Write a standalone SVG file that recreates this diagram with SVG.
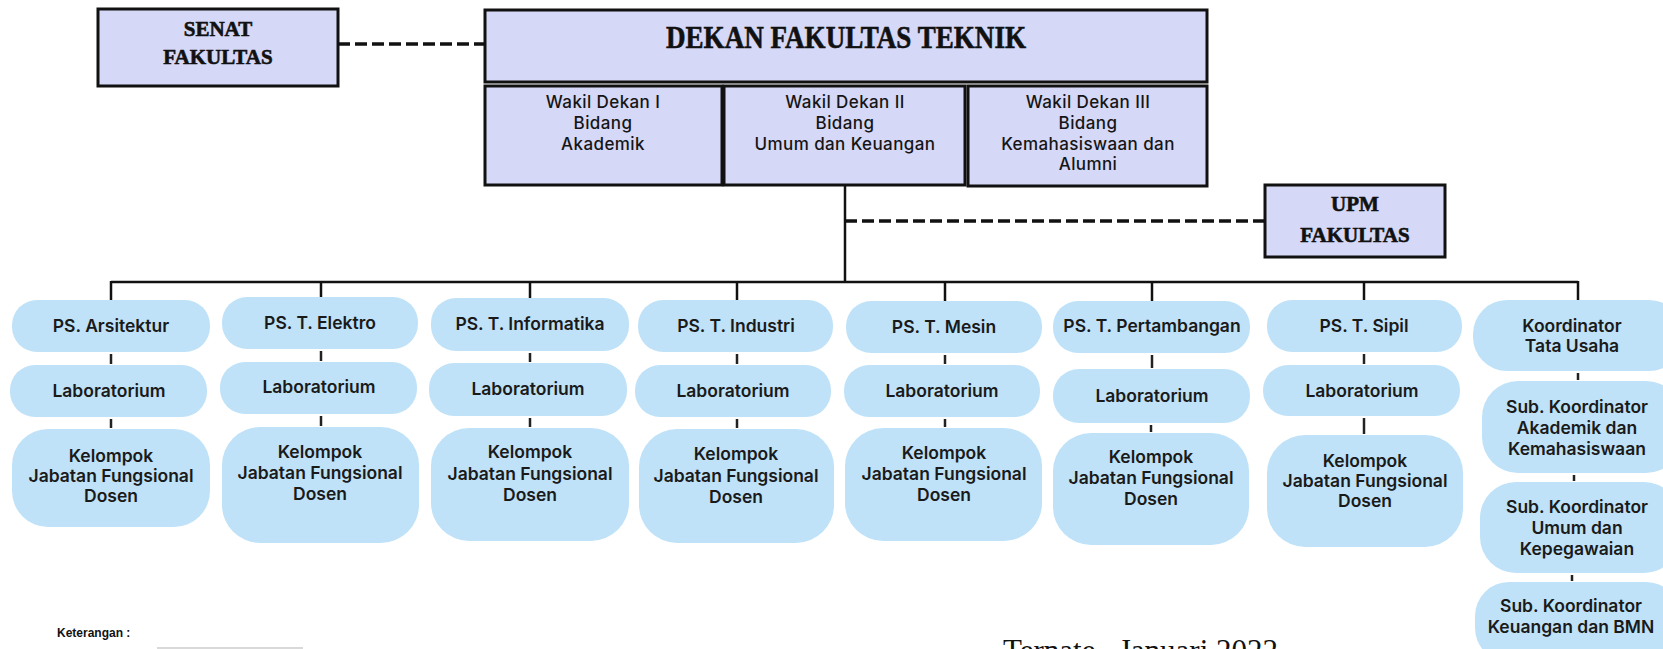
<svg xmlns="http://www.w3.org/2000/svg" width="1663" height="649" viewBox="0 0 1663 649">
<style>
.bx{fill:#D5D8F7;stroke:#111;stroke-width:3}
.pill{fill:#BFE2F8;stroke:none}
.sf{font-family:"Liberation Serif","DejaVu Serif",serif;font-weight:bold;fill:#111;text-anchor:middle;stroke:#111;stroke-width:0.6}
.wk{font-family:Inter,"Noto Sans",sans-serif;font-weight:500;font-size:17px;letter-spacing:0.4px;fill:#151515;text-anchor:middle}
.pt{font-family:Inter,"Noto Sans",sans-serif;font-weight:600;font-size:17.5px;fill:#1a1a1a;text-anchor:middle}
.ln{stroke:#111;stroke-width:2.5;fill:none}
.st{stroke:#222;stroke-width:2.5;fill:none}
.dash{stroke:#111;stroke-width:3.5;stroke-dasharray:12 5;fill:none}
</style>
<rect width="1663" height="649" fill="#fff"/>

<g id="connectors">
<line class="dash" x1="338" y1="44" x2="485" y2="44"/>
<line class="dash" x1="845" y1="221" x2="1265" y2="221"/>
<line class="ln" x1="845" y1="186" x2="845" y2="282"/>
<line class="ln" x1="111" y1="282" x2="1578" y2="282"/>
<line class="ln" x1="111" y1="281" x2="111" y2="300"/>
<line class="ln" x1="321" y1="281" x2="321" y2="297"/>
<line class="ln" x1="530" y1="281" x2="530" y2="298"/>
<line class="ln" x1="737" y1="281" x2="737" y2="300"/>
<line class="ln" x1="945" y1="281" x2="945" y2="301"/>
<line class="ln" x1="1152" y1="281" x2="1152" y2="301"/>
<line class="ln" x1="1364" y1="281" x2="1364" y2="300"/>
<line class="ln" x1="1578" y1="281" x2="1578" y2="300"/>
<line class="st" x1="111" y1="354" x2="111" y2="364"/>
<line class="st" x1="111" y1="419" x2="111" y2="428"/>
<line class="st" x1="321" y1="351" x2="321" y2="361"/>
<line class="st" x1="321" y1="416" x2="321" y2="426"/>
<line class="st" x1="530" y1="353" x2="530" y2="362"/>
<line class="st" x1="530" y1="418" x2="530" y2="427"/>
<line class="st" x1="737" y1="354" x2="737" y2="364"/>
<line class="st" x1="737" y1="419" x2="737" y2="428"/>
<line class="st" x1="945" y1="355" x2="945" y2="364"/>
<line class="st" x1="945" y1="419" x2="945" y2="427"/>
<line class="st" x1="1152" y1="355" x2="1152" y2="368"/>
<line class="st" x1="1151" y1="425" x2="1151" y2="432"/>
<line class="st" x1="1364" y1="354" x2="1364" y2="364"/>
<line class="st" x1="1364" y1="418" x2="1364" y2="434"/>
<line class="st" x1="1578" y1="373" x2="1578" y2="380"/>
<line class="st" x1="1574" y1="475" x2="1574" y2="481"/>
<line class="st" x1="1572" y1="575" x2="1572" y2="581"/>
</g>

<g id="senat">
<rect class="bx" x="98" y="9" width="240" height="77"/>
<text class="sf" x="218" y="36" font-size="21">SENAT</text>
<text class="sf" x="218" y="64" font-size="21">FAKULTAS</text>
</g>

<g id="dekan">
<rect class="bx" x="485" y="10" width="722" height="72"/>
<text class="sf" x="846" y="48" font-size="32" textLength="360" lengthAdjust="spacingAndGlyphs">DEKAN FAKULTAS TEKNIK</text>
</g>

<g id="wd1">
<rect class="bx" x="485" y="86" width="237" height="99"/>
<text class="wk" x="603" y="108">Wakil Dekan I</text>
<text class="wk" x="603" y="129">Bidang</text>
<text class="wk" x="603" y="150">Akademik</text>
</g>
<g id="wd2">
<rect class="bx" x="724" y="86" width="241" height="99"/>
<text class="wk" x="845" y="108">Wakil Dekan II</text>
<text class="wk" x="845" y="129">Bidang</text>
<text class="wk" x="845" y="150">Umum dan Keuangan</text>
</g>
<g id="wd3">
<rect class="bx" x="968" y="86" width="239" height="100"/>
<text class="wk" x="1088" y="108">Wakil Dekan III</text>
<text class="wk" x="1088" y="129">Bidang</text>
<text class="wk" x="1088" y="150">Kemahasiswaan dan</text>
<text class="wk" x="1088" y="170">Alumni</text>
</g>

<g id="upm">
<rect class="bx" x="1265" y="185" width="180" height="72"/>
<text class="sf" x="1355" y="211" font-size="21">UPM</text>
<text class="sf" x="1355" y="242" font-size="21">FAKULTAS</text>
</g>

<g id="ps-arsitektur">
<rect class="pill" x="12" y="300" width="198" height="52" rx="25"/>
<text class="pt" x="111" y="332">PS. Arsitektur</text>
</g>
<g id="lab-arsitektur">
<rect class="pill" x="10" y="365" width="197" height="52" rx="25"/>
<text class="pt" x="109" y="397">Laboratorium</text>
</g>
<g id="kel-arsitektur">
<rect class="pill" x="12" y="429" width="198" height="98" rx="36"/>
<text class="pt" x="111" y="462">Kelompok</text>
<text class="pt" x="111" y="482">Jabatan Fungsional</text>
<text class="pt" x="111" y="502">Dosen</text>
</g>

<g id="ps-elektro">
<rect class="pill" x="222" y="297" width="196" height="52" rx="25"/>
<text class="pt" x="320" y="329">PS. T. Elektro</text>
</g>
<g id="lab-elektro">
<rect class="pill" x="220" y="362" width="197" height="52" rx="25"/>
<text class="pt" x="319" y="393">Laboratorium</text>
</g>
<g id="kel-elektro">
<rect class="pill" x="222" y="427" width="197" height="116" rx="38"/>
<text class="pt" x="320" y="458">Kelompok</text>
<text class="pt" x="320" y="479">Jabatan Fungsional</text>
<text class="pt" x="320" y="500">Dosen</text>
</g>

<g id="ps-informatika">
<rect class="pill" x="431" y="298" width="198" height="53" rx="25"/>
<text class="pt" x="530" y="330">PS. T. Informatika</text>
</g>
<g id="lab-informatika">
<rect class="pill" x="429" y="363" width="198" height="53" rx="25"/>
<text class="pt" x="528" y="395">Laboratorium</text>
</g>
<g id="kel-informatika">
<rect class="pill" x="431" y="428" width="198" height="113" rx="38"/>
<text class="pt" x="530" y="458">Kelompok</text>
<text class="pt" x="530" y="480">Jabatan Fungsional</text>
<text class="pt" x="530" y="501">Dosen</text>
</g>

<g id="ps-industri">
<rect class="pill" x="638" y="300" width="195" height="52" rx="25"/>
<text class="pt" x="736" y="332">PS. T. Industri</text>
</g>
<g id="lab-industri">
<rect class="pill" x="635" y="365" width="196" height="52" rx="25"/>
<text class="pt" x="733" y="397">Laboratorium</text>
</g>
<g id="kel-industri">
<rect class="pill" x="639" y="429" width="195" height="114" rx="38"/>
<text class="pt" x="736" y="460">Kelompok</text>
<text class="pt" x="736" y="482">Jabatan Fungsional</text>
<text class="pt" x="736" y="503">Dosen</text>
</g>

<g id="ps-mesin">
<rect class="pill" x="846" y="301" width="196" height="52" rx="25"/>
<text class="pt" x="944" y="333">PS. T. Mesin</text>
</g>
<g id="lab-mesin">
<rect class="pill" x="844" y="365" width="196" height="52" rx="25"/>
<text class="pt" x="942" y="397">Laboratorium</text>
</g>
<g id="kel-mesin">
<rect class="pill" x="845" y="428" width="197" height="113" rx="38"/>
<text class="pt" x="944" y="459">Kelompok</text>
<text class="pt" x="944" y="480">Jabatan Fungsional</text>
<text class="pt" x="944" y="501">Dosen</text>
</g>

<g id="ps-pertambangan">
<rect class="pill" x="1053" y="301" width="197" height="52" rx="25"/>
<text class="pt" x="1152" y="332">PS. T. Pertambangan</text>
</g>
<g id="lab-pertambangan">
<rect class="pill" x="1053" y="369" width="197" height="54" rx="26"/>
<text class="pt" x="1152" y="402">Laboratorium</text>
</g>
<g id="kel-pertambangan">
<rect class="pill" x="1053" y="433" width="196" height="112" rx="38"/>
<text class="pt" x="1151" y="463">Kelompok</text>
<text class="pt" x="1151" y="484">Jabatan Fungsional</text>
<text class="pt" x="1151" y="505">Dosen</text>
</g>

<g id="ps-sipil">
<rect class="pill" x="1267" y="300" width="195" height="52" rx="25"/>
<text class="pt" x="1364" y="332">PS. T. Sipil</text>
</g>
<g id="lab-sipil">
<rect class="pill" x="1263" y="365" width="197" height="51" rx="25"/>
<text class="pt" x="1362" y="397">Laboratorium</text>
</g>
<g id="kel-sipil">
<rect class="pill" x="1267" y="435" width="196" height="112" rx="38"/>
<text class="pt" x="1365" y="467">Kelompok</text>
<text class="pt" x="1365" y="487">Jabatan Fungsional</text>
<text class="pt" x="1365" y="507">Dosen</text>
</g>

<g id="koordinator-tu">
<rect class="pill" x="1473" y="300" width="210" height="71" rx="34"/>
<text class="pt" x="1572" y="332">Koordinator</text>
<text class="pt" x="1572" y="352">Tata Usaha</text>
</g>
<g id="sub-akademik">
<rect class="pill" x="1482" y="381" width="200" height="92" rx="36"/>
<text class="pt" x="1577" y="413">Sub. Koordinator</text>
<text class="pt" x="1577" y="434">Akademik dan</text>
<text class="pt" x="1577" y="455">Kemahasiswaan</text>
</g>
<g id="sub-umum">
<rect class="pill" x="1480" y="482" width="200" height="91" rx="36"/>
<text class="pt" x="1577" y="513">Sub. Koordinator</text>
<text class="pt" x="1577" y="534">Umum dan</text>
<text class="pt" x="1577" y="555">Kepegawaian</text>
</g>
<g id="sub-keuangan">
<rect class="pill" x="1475" y="582" width="205" height="80" rx="34"/>
<text class="pt" x="1571" y="612">Sub. Koordinator</text>
<text class="pt" x="1571" y="633">Keuangan dan BMN</text>
</g>

<g id="keterangan">
<text x="57" y="637" font-family="'Liberation Sans',Arial,sans-serif" font-weight="bold" font-size="12" fill="#111">Keterangan :</text>
<line x1="157" y1="648" x2="303" y2="648" stroke="#ccc" stroke-width="1.5"/>
</g>

<g id="tanggal">
<text x="1003" y="661" font-family="'Liberation Serif','Times New Roman',serif" font-size="31" fill="#111">Ternate , Januari 2022</text>
</g>
</svg>
